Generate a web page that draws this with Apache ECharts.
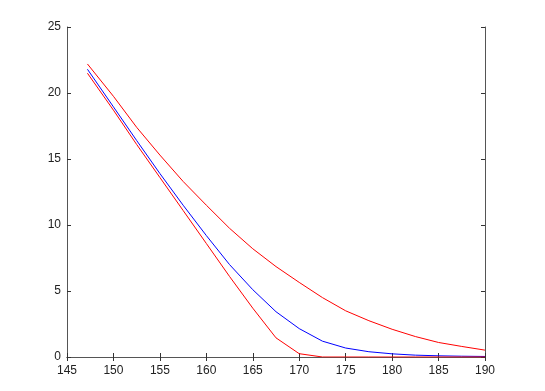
<!DOCTYPE html>
<html>
<head>
<meta charset="utf-8">
<script src="https://cdn.jsdelivr.net/npm/echarts@6/dist/echarts.min.js"></script>
<style>
  html, body { margin: 0; padding: 0; background: #fff; }
  #chart { width: 545px; height: 391px; }
</style>
</head>
<body>
<div id="chart"></div>
<script>
// x positions of the samples
const xs = [147.2, 150, 152.5, 155, 157.5, 160, 162.5, 165, 167.5, 170, 172.5, 175, 177.5, 180, 182.5, 185, 187.5, 190];
// upper red curve
const upper = [22.2, 19.75, 17.4, 15.3, 13.3, 11.5, 9.75, 8.2, 6.85, 5.65, 4.5, 3.5, 2.75, 2.1, 1.55, 1.1, 0.8, 0.52];
// blue middle curve
const middle = [21.8, 18.95, 16.4, 13.9, 11.5, 9.2, 7.0, 5.1, 3.43, 2.15, 1.2, 0.68, 0.4, 0.24, 0.14, 0.09, 0.06, 0.04];
// lower red curve
const lower = [21.5, 18.7, 16.1, 13.6, 11.1, 8.6, 6.1, 3.7, 1.45, 0.25, 0, 0, 0, 0, 0, 0, 0, 0];

function pairs(ys) {
  return xs.map((x, i) => [x, ys[i]]);
}

const axisLine = { show: true, lineStyle: { color: "#555", width: 1 } };
const tick = { show: true, inside: true, length: 4, lineStyle: { color: "#333" } };
const label = { color: "#222", fontSize: 12, fontFamily: "Liberation Sans, Arial, sans-serif" };

const chart = echarts.init(document.getElementById("chart"));
chart.setOption({
  animation: false,
  grid: { left: 67, right: 60, top: 27, bottom: 34 },
  xAxis: [
    {
      type: "value", min: 145, max: 190, interval: 5, position: "bottom",
      axisLine: axisLine, axisTick: tick, splitLine: { show: false },
      axisLabel: Object.assign({ margin: 8 }, label)
    },
    {
      type: "value", min: 145, max: 190, interval: 5, position: "top",
      axisLine: axisLine, axisTick: tick, splitLine: { show: false },
      axisLabel: { show: false }
    }
  ],
  yAxis: [
    {
      type: "value", min: 0, max: 25, interval: 5, position: "left",
      axisLine: axisLine, axisTick: tick, splitLine: { show: false },
      axisLabel: Object.assign({ margin: 6 }, label)
    },
    {
      type: "value", min: 0, max: 25, interval: 5, position: "right",
      axisLine: axisLine, axisTick: tick, splitLine: { show: false },
      axisLabel: { show: false }
    }
  ],
  series: [
    { type: "line", data: pairs(upper), showSymbol: false, lineStyle: { color: "#ff0000", width: 1 } },
    { type: "line", data: pairs(middle), showSymbol: false, lineStyle: { color: "#0000ff", width: 1 } },
    { type: "line", data: pairs(lower), showSymbol: false, lineStyle: { color: "#ff0000", width: 1 } }
  ]
});
</script>
</body>
</html>
